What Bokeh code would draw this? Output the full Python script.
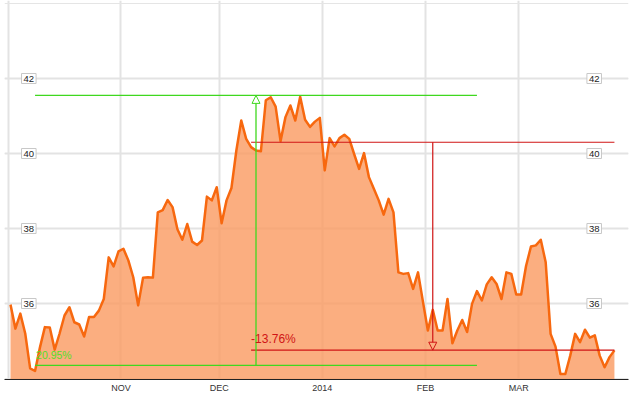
from bokeh.plotting import figure
from bokeh.models import Range1d, FixedTicker, Grid, Label, Arrow, NormalHead
from bokeh.embed import file_html
from bokeh.resources import INLINE

# ---- data (daily closes, trading days Oct 1 2013 .. Mar 28 2014) ----
values = [
    35.97, 35.33, 35.73, 35.20, 34.27, 34.20, 34.83, 35.37, 35.36, 34.77,
    35.20, 35.68, 35.90, 35.50, 35.44, 35.12, 35.64, 35.64, 35.81, 36.12,
    37.23, 36.99, 37.39, 37.46, 37.15, 36.70, 35.95, 36.69, 36.70, 36.69,
    38.43, 38.49, 38.76, 38.57, 37.98, 37.70, 38.12, 37.65, 37.56, 37.68,
    38.85, 38.75, 39.10, 38.14, 38.75, 39.08, 40.08, 40.88, 40.39, 40.17,
    40.08, 40.06, 41.42, 41.50, 41.25, 40.33, 40.97, 41.28, 40.88, 41.51,
    40.90, 40.71, 40.85, 40.95, 39.55, 40.41, 40.19, 40.41, 40.50, 40.39,
    39.98, 39.59, 40.01, 39.37, 39.06, 38.75, 38.37, 38.79, 38.43, 36.83,
    36.79, 36.81, 36.39, 36.83, 36.05, 35.28, 35.83, 35.28, 35.28, 36.12,
    34.94, 35.28, 35.56, 35.24, 35.99, 36.33, 36.08, 36.51, 36.70, 36.52,
    36.12, 36.83, 36.79, 36.24, 36.24, 37.00, 37.52, 37.55, 37.70, 37.10,
    35.19, 34.85, 34.12, 34.12, 34.61, 35.19, 34.97, 35.30, 35.09, 35.15,
    34.61, 34.30, 34.57, 34.75,
]
day_index = list(range(len(values)))

month_labels = ["", "NOV", "DEC", "2014", "FEB", "MAR"]
month_start_idx = [0, 23, 43, 64, 85, 104]
y_ticks = [36, 38, 40, 42]

rise_low, rise_high = 34.35, 41.55
rise_text = "20.95%"
rise_start_idx, rise_end_idx, rise_arrow_idx = 5, 95, 50

drop_high, drop_low = 40.30, 34.755
drop_text = "-13.76%"
drop_start_idx, drop_end_idx, drop_arrow_idx = 49, 123, 86

# ---- layout ----
W, H = 631, 397
PX_PER_DAY = 4.91
X0_PX = 10
FRAME_L, FRAME_R = 4, 628
FRAME_B = 379
Y_REF_VAL, Y_REF_PX, PX_PER_UNIT = 36.0, 303.0, 37.5


def px_to_idx(px):
    return (px - X0_PX) / PX_PER_DAY


x_range = Range1d(px_to_idx(FRAME_L), px_to_idx(FRAME_R))
y_range = Range1d(Y_REF_VAL - (FRAME_B - Y_REF_PX) / PX_PER_UNIT,
                  Y_REF_VAL + Y_REF_PX / PX_PER_UNIT)

p = figure(width=W, height=H, x_range=x_range, y_range=y_range,
           output_backend="svg", toolbar_location=None,
           y_axis_location=None,
           min_border_left=FRAME_L, min_border_right=W - FRAME_R,
           min_border_top=0, min_border_bottom=H - FRAME_B,
           outline_line_color=None, background_fill_color="white",
           border_fill_color="white")

GRID_COLOR = "#e3e3e3"
tick_pos = [i - 0.5 for i in month_start_idx]
p.xaxis.ticker = FixedTicker(ticks=tick_pos)
p.xaxis.major_label_overrides = {t: lab for t, lab in zip(tick_pos, month_labels)}
p.xaxis.axis_line_color = "#222222"
p.xaxis.axis_line_width = 1
p.xaxis.major_tick_line_color = None
p.xaxis.minor_tick_line_color = None
p.xaxis.major_tick_out = 0
p.xaxis.major_tick_in = 0
p.xaxis.minor_tick_out = 0
p.xaxis.minor_tick_in = 0
p.xaxis.major_label_standoff = 3
p.xaxis.major_label_text_font = "Liberation Sans"
p.xaxis.major_label_text_font_size = "9px"
p.xaxis.major_label_text_color = "#333333"
p.xgrid.ticker = FixedTicker(ticks=tick_pos)
p.xgrid.grid_line_color = GRID_COLOR
p.xgrid.grid_line_width = 2

p.add_layout(Grid(dimension=1, ticker=FixedTicker(ticks=y_ticks),
                  grid_line_color=GRID_COLOR, grid_line_width=2))

# area + line
p.varea(x=day_index, y1=y_range.start, y2=values,
        fill_color="#fa9a60", fill_alpha=0.8)
p.line(day_index, values, line_color="#f7680f", line_width=2.5,
       line_join="round")

# y tick labels (boxed, inside plot, both sides)
for side_px in (28.3, 593.7):
    for v in y_ticks:
        p.add_layout(Label(x=px_to_idx(side_px), y=v, text=str(v),
                           text_align="center", text_baseline="middle",
                           text_font="Liberation Sans", text_font_size="9.5px",
                           text_color="#222222",
                           background_fill_color="white",
                           border_line_color="#c8c8c8", border_line_width=1,
                           padding=2))

# rise annotation (green)
GREEN = "#3fd81f"
p.segment(x0=[rise_start_idx, rise_start_idx], x1=[rise_end_idx, rise_end_idx],
          y0=[rise_low, rise_high], y1=[rise_low, rise_high],
          line_color=GREEN, line_width=1.3)
p.add_layout(Arrow(end=NormalHead(size=8, line_color=GREEN, line_width=1,
                                  fill_color="white", fill_alpha=0.6),
                   x_start=rise_arrow_idx, y_start=rise_low,
                   x_end=rise_arrow_idx, y_end=rise_high,
                   line_color=GREEN, line_width=1.3))
p.add_layout(Label(x=rise_start_idx, y=rise_low, text=rise_text,
                   x_offset=1, y_offset=4, text_baseline="bottom",
                   text_font="Liberation Sans", text_font_size="10.5px",
                   text_color="#55dd2a"))

# drop annotation (red)
RED = "#d01515"
p.segment(x0=[drop_start_idx, drop_start_idx], x1=[drop_end_idx, drop_end_idx],
          y0=[drop_high, drop_low], y1=[drop_high, drop_low],
          line_color=RED, line_width=1.2)
p.add_layout(Arrow(end=NormalHead(size=8, line_color=RED, line_width=1,
                                  fill_color=None),
                   x_start=drop_arrow_idx, y_start=drop_high,
                   x_end=drop_arrow_idx, y_end=drop_low,
                   line_color=RED, line_width=1.2))
p.add_layout(Label(x=drop_start_idx, y=drop_low, text=drop_text,
                   x_offset=0, y_offset=4, text_baseline="bottom",
                   text_font="Liberation Sans", text_font_size="12px",
                   text_color=RED))

open("out.html", "w").write(file_html(p, INLINE))
